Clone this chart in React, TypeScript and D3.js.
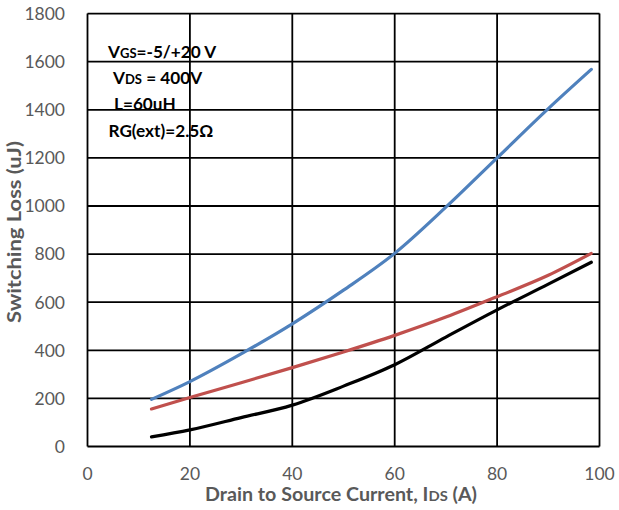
import React from "react";
import * as d3 from "d3";

const currents = [12.5, 20, 30, 40, 50, 60, 70, 80, 90, 98.4];
const blueLoss = [196, 270, 385, 510, 650, 803, 995, 1200, 1405, 1568];
const redLoss = [156, 204, 265, 328, 393, 462, 538, 623, 712, 803];
const blackLoss = [40, 69, 120, 172, 251, 340, 455, 568, 675, 766];
const xTicks = [0, 20, 40, 60, 80, 100];
const yTicks = [0, 200, 400, 600, 800, 1000, 1200, 1400, 1600, 1800];

const series = [
  { values: blueLoss, color: "#4f81bd" },
  { values: redLoss, color: "#c0504d" },
  { values: blackLoss, color: "#000000" },
];

const W = 619;
const H = 510;
const left = 87.5;
const right = 599.5;
const top = 13.6;
const bottom = 446.5;
const font = "Lato, 'Open Sans', sans-serif";
const gray = "#595959";

export default function App() {
  const x = d3.scaleLinear().domain([0, 100]).range([left, right]);
  const y = d3.scaleLinear().domain([0, 1800]).range([bottom, top]);
  const line = d3
    .line<number>()
    .x((_, i) => x(currents[i]))
    .y((d) => y(d))
    .curve(d3.curveMonotoneX);

  return (
    <svg
      width={W}
      height={H}
      style={{ position: "absolute", left: 0, top: 0, background: "#fff" }}
    >
      {yTicks.map((t) => (
        <line key={"gy" + t} x1={left} x2={right} y1={y(t)} y2={y(t)} stroke="#000" strokeWidth={1.8} />
      ))}
      {xTicks.map((t) => (
        <line key={"gx" + t} x1={x(t)} x2={x(t)} y1={top} y2={bottom} stroke="#000" strokeWidth={1.8} />
      ))}
      {series.map((s, i) => (
        <path key={i} d={line(s.values) || ""} fill="none" stroke={s.color} strokeWidth={3.2} strokeLinecap="round" />
      ))}
      {yTicks.map((t) => (
        <text key={"ty" + t} x={65} y={y(t)} dy="0.36em" textAnchor="end" fontFamily={font} fontSize={17.5} fill={gray}>
          {t}
        </text>
      ))}
      {xTicks.map((t) => (
        <text key={"tx" + t} x={x(t)} y={479.5} textAnchor="middle" fontFamily={font} fontSize={17.5} fill={gray}>
          {t}
        </text>
      ))}
      <text
        x={205}
        y={501}
        fontFamily={font}
        fontSize={18}
        fontWeight="bold"
        fill={gray}
        textLength={272}
        lengthAdjust="spacingAndGlyphs"
      >
        Drain to Source Current, I<tspan fontSize={13.5}>DS</tspan> (A)
      </text>
      <text
        transform="translate(21,232) rotate(-90)"
        textAnchor="middle"
        fontFamily={font}
        fontSize={19.5}
        fontWeight="bold"
        fill={gray}
        textLength={182}
        lengthAdjust="spacingAndGlyphs"
      >
        Switching Loss (uJ)
      </text>
      <g fontFamily={font} fontSize={17.2} fontWeight="bold" fill="#000">
        <text x={108} y={58}>
          V<tspan fontSize={13}>GS</tspan>=-5/+20 V
        </text>
        <text x={113} y={84}>
          V<tspan fontSize={13}>DS</tspan> = 400V
        </text>
        <text x={114} y={110}>L=60uH</text>
        <text x={108.5} y={136.5}>RG(ext)=2.5Ω</text>
      </g>
    </svg>
  );
}
